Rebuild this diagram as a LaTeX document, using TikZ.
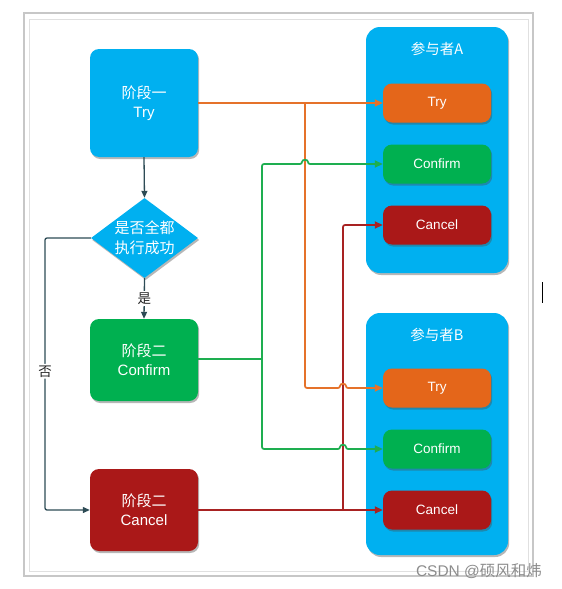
\documentclass[tikz,border=0pt]{standalone}
\usepackage{fontspec}
\setmainfont{Liberation Sans}
\newfontfamily\cjk{Noto Sans CJK SC}
\usetikzlibrary{shapes.geometric,shadows,arrows.meta}
\definecolor{myblue}{HTML}{00B0F0}
\definecolor{myorange}{HTML}{E4661A}
\definecolor{mygreen}{HTML}{00B050}
\definecolor{myred}{HTML}{AA1818}
\definecolor{lnorange}{HTML}{E5722A}
\definecolor{lngreen}{HTML}{1EAE50}
\definecolor{lnred}{HTML}{A82222}
\definecolor{dkline}{HTML}{2D4B55}
\begin{document}
\begin{tikzpicture}[x=1pt,y=-1pt,
  shd/.style={drop shadow={shadow xshift=1.2pt,shadow yshift=-2pt,opacity=0.4,fill=black!70}},
  stagebox/.style={rounded corners=9pt, minimum width=108pt, inner sep=0pt, text=white, align=center, font=\fontsize{15}{19}\selectfont, shd},
  ibox/.style={rounded corners=9pt, minimum width=108pt, minimum height=39pt, inner sep=0pt, text=white, font=\fontsize{13.5}{16}\selectfont, shd},
  panel/.style={fill=myblue, rounded corners=14pt, minimum width=142pt, inner sep=0pt, shd},
  ptext/.style={text=white, inner sep=0pt, font=\fontsize{14.5}{16}\selectfont\cjk},
  conn/.style={line width=1.7pt, rounded corners=2pt},
  tip/.style={-{Triangle[length=8pt,width=7pt]}},
  btip/.style={{Triangle[length=8pt,width=7pt]}-{Triangle[length=8pt,width=7pt]}},
  dk/.style={draw=dkline, line width=1.3pt, rounded corners=2pt, -{Triangle[length=7pt,width=6pt]}},
  lab/.style={fill=white, inner sep=1.5pt, text=black!85, font=\fontsize{13.5}{15}\selectfont\cjk},
]
\useasboundingbox (0,0) rectangle (562,589);
% frame
\draw[draw=black!22, line width=1.1pt] (24,13) rectangle (533,576);
\draw[draw=black!12, line width=1pt] (29,19) rectangle (528,571);
% cursor
\draw[black, line width=0.9pt] (542,282) -- (542,303);

% panels
\node[panel, minimum height=246pt] (pA) at (437,150) {};
\node[panel, minimum height=242pt] (pB) at (437,434) {};
\node[ptext] (lA) at (437,49) {参与者A};
\node[ptext] (lB) at (437,335) {参与者B};

% inner boxes
\node[ibox, fill=myorange] (aT) at (437,103) {Try};
\node[ibox, fill=mygreen] (aC) at (437,164) {Confirm};
\node[ibox, fill=myred] (aX) at (437,225) {Cancel};
\node[ibox, fill=myorange] (bT) at (437,388) {Try};
\node[ibox, fill=mygreen] (bC) at (437,449) {Confirm};
\node[ibox, fill=myred] (bX) at (437,510) {Cancel};

% stage boxes
\node[stagebox, fill=myblue, minimum height=108pt] (s1) at (144,103) {{\cjk 阶段一}\\Try};
\node[draw=none, fill=myblue, shape=diamond, minimum width=107pt, minimum height=80pt, inner sep=0pt, shape aspect=1.34, text=white, align=center, font=\fontsize{15}{20}\selectfont\cjk, shd] (dia) at (144.5,238) {是否全都\\执行成功};
\node[stagebox, fill=mygreen, minimum height=82pt] (c2) at (144,360) {{\cjk 阶段二}\\Confirm};
\node[stagebox, fill=myred, minimum height=82pt] (x2) at (144,510) {{\cjk 阶段二}\\Cancel};

% flow lines
\coordinate (nL) at (45,238);
\draw[dk] (s1.south) -- (dia.north);
\draw[dk] (dia.south) -- node[lab] (yes) {是} (c2.north);
\draw[dk] (dia.west) -- (nL) -- node[lab, pos=0.49] (no) {否} (nL |- x2.west) -- (x2.west);

% red
\coordinate (rT) at (343,225);
\coordinate (rB) at (343,510);
\draw[conn, lnred, tip] (x2.east) -- (bX.west);
\draw[conn, lnred, tip] (rB) -- (rT) -- (aX.west);

% orange
\coordinate (oT) at (305,103);
\coordinate (oB) at (305,388);
\draw[conn, lnorange, tip] (s1.east) -- (aT.west);
\draw[conn, lnorange, tip] (oT) -- (oB) -- (340,388) .. controls (340,383) and (346,383) .. (346,388) -- (bT.west);

% green
\coordinate (gT) at (262,164);
\coordinate (gB) at (262,449);
\coordinate (gM) at (262,359);
\draw[conn, lngreen] (c2.east |- gM) -- (gM);
\draw[conn, lngreen, btip] (aC.west) -- (308,164) .. controls (308,159) and (302,159) .. (302,164) -- (gT) -- (gB) -- (340,449) .. controls (340,444) and (346,444) .. (346,449) -- (bC.west);

% watermark
\node[text=black!45, inner sep=0pt, font=\fontsize{15.5}{18}\selectfont] (wm) at (479,571) {CSDN @{\cjk 硕风和炜}};
\end{tikzpicture}
\end{document}
